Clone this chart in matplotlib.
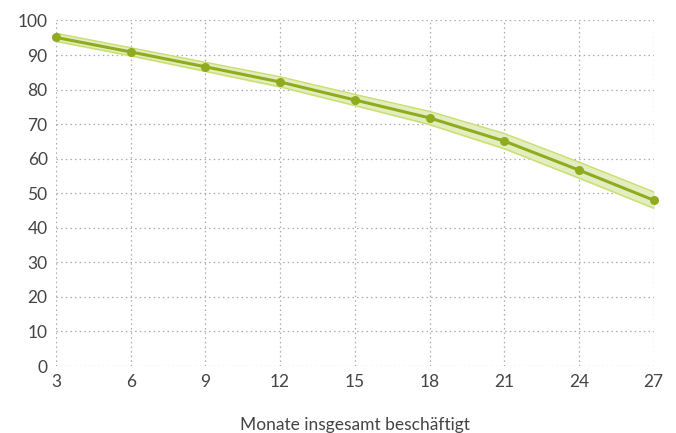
import numpy as np
import matplotlib
matplotlib.use("Agg")
import matplotlib.pyplot as plt

plt.rcParams["font.family"] = ["Lato", "DejaVu Sans"]

months = [3, 6, 9, 12, 15, 18, 21, 24, 27]
share = [95.1, 90.9, 86.6, 82.2, 77.0, 71.8, 65.1, 56.7, 48.0]
lower = [94.0, 89.8, 85.3, 80.8, 75.4, 69.9, 62.9, 54.4, 45.7]
upper = [96.3, 92.1, 87.9, 83.7, 78.6, 73.7, 67.3, 59.0, 50.4]

LINE = "#8fac1e"
BAND = "#e4edbf"
BAND_EDGE = "#c9df6f"
TEXT = "#444444"

fig = plt.figure(figsize=(6.76, 4.33), dpi=100)
ax = fig.add_axes([0.0828, 0.1547, 0.8842, 0.798])

ax.fill_between(months, lower, upper, color=BAND, zorder=2)
ax.plot(months, lower, color=BAND_EDGE, linewidth=1, zorder=2)
ax.plot(months, upper, color=BAND_EDGE, linewidth=1, zorder=2)
ax.plot(months, share, color=LINE, linewidth=2.2, marker="o", markersize=5.5,
        zorder=3, clip_on=False)

ax.set_xlim(3, 27)
ax.set_ylim(0, 100)
ax.set_xticks(months)
ax.set_yticks(range(0, 101, 10))

for s in ax.spines.values():
    s.set_visible(False)
ax.tick_params(length=0, labelsize=12.5, colors=TEXT, pad=6)
ax.grid(True, color="#aaaaaa", linestyle=(0, (1.2, 2.5)), linewidth=0.9, zorder=1)

ax.set_xlabel("Monate insgesamt beschäftigt", fontsize=12.5, color=TEXT, labelpad=19)

fig.savefig("out.png", dpi=100)
